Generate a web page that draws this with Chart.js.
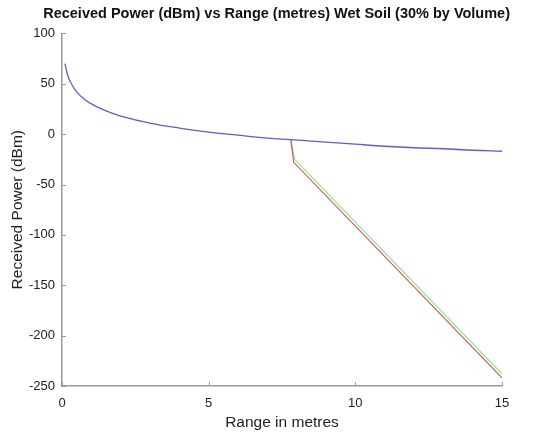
<!DOCTYPE html>
<html lang="en">
<head>
    <meta charset="UTF-8">
    <title>Received Power vs Range</title>
    <script src="https://cdn.jsdelivr.net/npm/chart.js"></script>
    <style>
        html, body { margin: 0; padding: 0; background: #fff; }
        #box { width: 534px; height: 435px; }
    </style>
</head>
<body>
    <div id="box"><canvas id="canvasPotencia"></canvas></div>

<script>
    // Curva principal (azul)
    const rangeBlue = [0.1, 0.2, 0.3, 0.5, 0.75, 1, 1.5, 2, 3, 4, 5, 6, 7, 7.8, 9, 10, 11, 12, 13, 14, 15];
    const powerBlue = [70, 58, 51, 42, 35, 30, 23, 18, 11, 6, 2, -1, -4, -5.5, -8, -10, -12, -13.5, -14.5, -16, -17];

    // Ramo vermelho
    const rangeRed = [7.8, 7.9, 15];
    const powerRed = [-5.5, -28, -242];

    // Ramo verde
    const rangeGreen = [7.8, 7.93, 15];
    const powerGreen = [-5.5, -25, -238];

    const xTicks = [0, 5, 10, 15];
    const yTicks = [100, 50, 0, -50, -100, -150, -200, -250];

    function pontos(xs, ys) {
        return xs.map((x, i) => ({ x: x, y: ys[i] }));
    }

    // desenha os tracinhos para dentro da área do gráfico
    const ticksDentro = {
        id: 'ticksDentro',
        afterDraw(chart) {
            const ctx = chart.ctx;
            const xs = chart.scales.x;
            const ys = chart.scales.y;
            ctx.save();
            ctx.strokeStyle = '#999';
            ctx.lineWidth = 1;
            ctx.beginPath();
            xTicks.forEach(v => {
                const px = Math.round(xs.getPixelForValue(v)) + 0.5;
                ctx.moveTo(px, ys.bottom);
                ctx.lineTo(px, ys.bottom - 4);
            });
            yTicks.forEach(v => {
                const py = Math.round(ys.getPixelForValue(v)) + 0.5;
                ctx.moveTo(xs.left, py);
                ctx.lineTo(xs.left + 4, py);
            });
            ctx.stroke();
            ctx.restore();
        }
    };

    const dataPotencia = {
        datasets: [
            {
                label: 'Azul',
                data: pontos(rangeBlue, powerBlue),
                borderColor: '#5b5fc7',
                borderWidth: 1.3,
                tension: 0.4,
                order: 1
            },
            {
                label: 'Vermelho',
                data: pontos(rangeRed, powerRed),
                borderColor: '#b8645a',
                borderWidth: 1.2,
                order: 2
            },
            {
                label: 'Verde',
                data: pontos(rangeGreen, powerGreen),
                borderColor: '#8fe08a',
                borderWidth: 1.2,
                order: 3
            }
        ]
    };

    const configPotencia = {
        type: 'scatter',
        data: dataPotencia,
        plugins: [ticksDentro],
        options: {
            responsive: true,
            maintainAspectRatio: false,
            animation: false,
            showLine: true,
            elements: {
                point: { radius: 0 }
            },
            layout: {
                padding: { right: 24, left: 0, top: 0, bottom: 0 }
            },
            plugins: {
                legend: { display: false },
                tooltip: { enabled: false },
                title: {
                    display: true,
                    text: 'Received Power (dBm) vs Range (metres) Wet Soil (30% by Volume)',
                    color: '#111',
                    font: { family: 'Liberation Sans', size: 14.5, weight: 'bold' },
                    padding: { top: 5, bottom: 11 },
                    align: 'end'
                }
            },
            scales: {
                x: {
                    type: 'linear',
                    min: 0,
                    max: 15,
                    afterBuildTicks: s => { s.ticks = xTicks.map(v => ({ value: v })); },
                    // paddingRight 32 -> a área do gráfico termina em 502px
                    afterFit: s => { s.height = 49; s.paddingRight = 32; },
                    grid: { display: false, drawTicks: false },
                    border: { display: true, color: '#999', width: 1.5 },
                    ticks: {
                        color: '#222',
                        padding: 10,
                        maxRotation: 0,
                        font: { family: 'Liberation Sans', size: 13 }
                    },
                    title: {
                        display: true,
                        text: 'Range in metres',
                        color: '#222',
                        font: { family: 'Liberation Sans', size: 15.5 },
                        padding: { top: 3, bottom: 3 }
                    }
                },
                y: {
                    type: 'linear',
                    min: -250,
                    max: 100,
                    afterBuildTicks: s => { s.ticks = yTicks.map(v => ({ value: v })); },
                    afterFit: s => { s.width = 62; },
                    grid: { display: false, drawTicks: false },
                    border: { display: true, color: '#999', width: 1.5 },
                    ticks: {
                        color: '#222',
                        padding: 7,
                        font: { family: 'Liberation Sans', size: 13 }
                    },
                    title: {
                        display: true,
                        text: 'Received Power (dBm)',
                        color: '#222',
                        font: { family: 'Liberation Sans', size: 15.5 },
                        padding: { top: 8, bottom: 2 }
                    }
                }
            }
        }
    };

    const GraficoPotencia = new Chart(
        document.getElementById('canvasPotencia'),
        configPotencia
    );
</script>
</body>
</html>
